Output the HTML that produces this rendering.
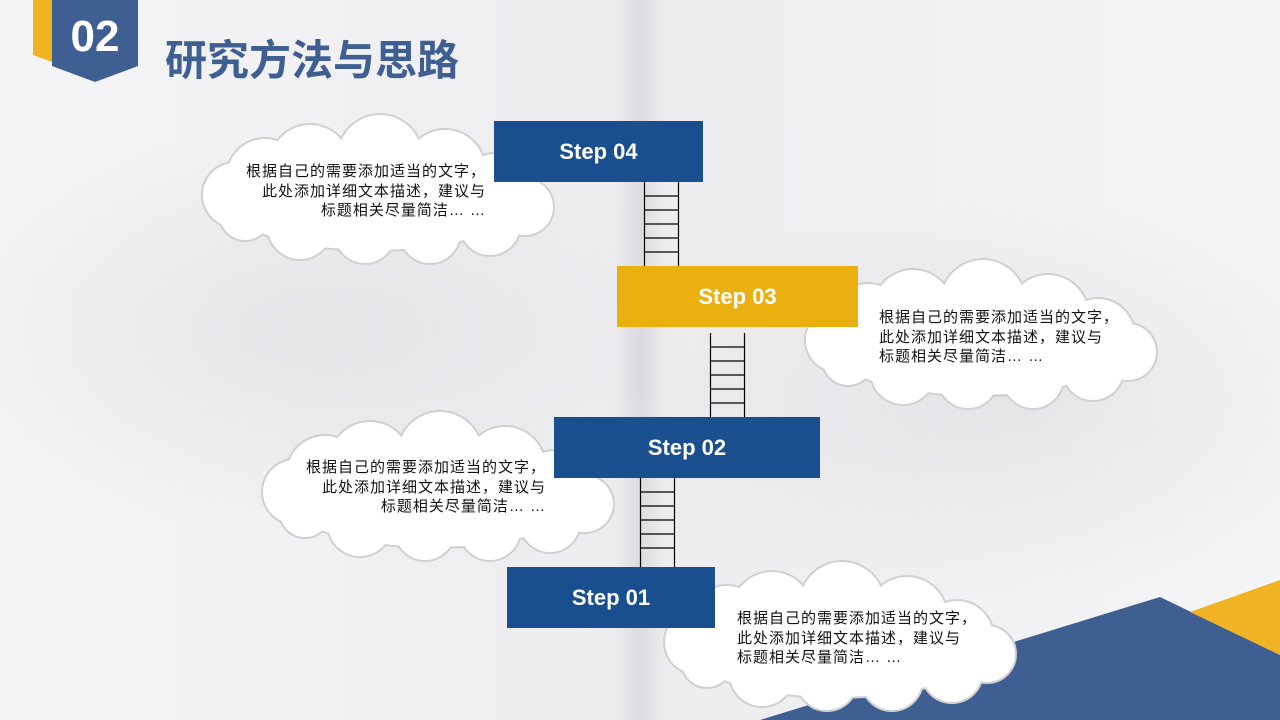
<!DOCTYPE html>
<html><head><meta charset="utf-8"><style>
body{margin:0;width:1280px;height:720px;overflow:hidden;position:relative;font-family:"Liberation Sans","Noto Sans CJK SC",sans-serif;background:#f2f2f4}
.bg{position:absolute;inset:0;background:
radial-gradient(ellipse 400px 200px at 300px 330px,rgba(200,200,205,.3),transparent),
radial-gradient(ellipse 400px 200px at 1000px 400px,rgba(200,200,205,.3),transparent),
linear-gradient(90deg,#f5f5f7 0%,#ededf0 48%,#dcdce0 50%,#ededf0 52%,#f5f5f7 100%)}
.box{position:absolute;color:#fff;font-weight:bold;font-size:22px;display:flex;align-items:center;justify-content:center}
.t{position:absolute;font-size:15px;letter-spacing:1px;line-height:19.5px;color:#111;white-space:nowrap}
</style></head><body>
<div class="bg"></div>
<svg width="1280" height="720" style="position:absolute;left:0;top:0">
<defs>
<g id="cl">
<ellipse cx="184" cy="85" rx="150" ry="50"/>
<circle cx="45" cy="80" r="32"/><circle cx="75" cy="62" r="38"/><circle cx="120" cy="50" r="40"/>
<circle cx="190" cy="42" r="42"/><circle cx="255" cy="55" r="40"/><circle cx="305" cy="75" r="36"/>
<circle cx="335" cy="92" r="28"/><circle cx="300" cy="110" r="30"/><circle cx="240" cy="118" r="30"/>
<circle cx="175" cy="118" r="30"/><circle cx="110" cy="112" r="32"/><circle cx="55" cy="100" r="25"/>
</g>
</defs>
<polygon points="760,720 1160,597 1280,655 1280,720" fill="#3f5f93"/>
<polygon points="1190,612 1280,580 1280,655" fill="#f0b323"/>
<polygon points="33,0 52,0 52,62 33,55" fill="#f0b323"/>
<polygon points="52,0 138,0 138,66 95,82 52,66" fill="#3f5f93"/>
<g stroke="#000" stroke-width="1.2" fill="none">
<path d="M644.5 182V266M678.5 182V266M644 196H678M644 210H678M644 224H678M644 238H678M644 252H678"/>
<path d="M710.5 333V417M744.5 333V417M710 347H744M710 361H744M710 375H744M710 389H744M710 403H744"/>
<path d="M640.5 478V567M674.5 478V567M640 492H674M640 506H674M640 520H674M640 534H674M640 548H674"/>
</g>
<g transform="translate(190,115)"><use href="#cl" fill="#fff" stroke="#d0d0d0" stroke-width="4"/><use href="#cl" fill="#fff"/></g>
<g transform="translate(793,260)"><use href="#cl" fill="#fff" stroke="#d0d0d0" stroke-width="4"/><use href="#cl" fill="#fff"/></g>
<g transform="translate(250,412)"><use href="#cl" fill="#fff" stroke="#d0d0d0" stroke-width="4"/><use href="#cl" fill="#fff"/></g>
<g transform="translate(652,562)"><use href="#cl" fill="#fff" stroke="#d0d0d0" stroke-width="4"/><use href="#cl" fill="#fff"/></g>
</svg>
<div style="position:absolute;left:52px;top:12px;width:86px;text-align:center;color:#fff;font-weight:bold;font-size:44px">02</div>
<div style="position:absolute;left:165px;top:27px;color:#3f5f93;font-weight:bold;font-size:42px">研究方法与思路</div>
<div class="box" style="left:494px;top:121px;width:209px;height:61px;background:#1a4f8f">Step 04</div>
<div class="box" style="left:617px;top:266px;width:241px;height:61px;background:#e9b010">Step 03</div>
<div class="box" style="left:554px;top:417px;width:266px;height:61px;background:#1a4f8f">Step 02</div>
<div class="box" style="left:507px;top:567px;width:208px;height:61px;background:#1a4f8f">Step 01</div>
<div class="t" style="right:794px;top:162px;text-align:right">根据自己的需要添加适当的文字，<br>此处添加详细文本描述，建议与<br>标题相关尽量简洁… …</div>
<div class="t" style="left:879px;top:308px">根据自己的需要添加适当的文字，<br>此处添加详细文本描述，建议与<br>标题相关尽量简洁… …</div>
<div class="t" style="right:734px;top:458px;text-align:right">根据自己的需要添加适当的文字，<br>此处添加详细文本描述，建议与<br>标题相关尽量简洁… …</div>
<div class="t" style="left:737px;top:609px">根据自己的需要添加适当的文字，<br>此处添加详细文本描述，建议与<br>标题相关尽量简洁… …</div>
</body></html>
